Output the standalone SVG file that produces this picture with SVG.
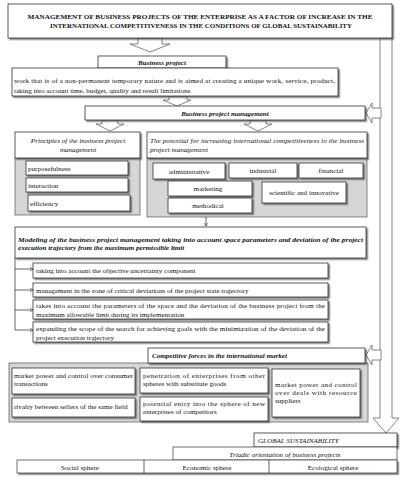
<svg xmlns="http://www.w3.org/2000/svg" width="405" height="480" viewBox="0 0 405 480" font-family="'Liberation Serif', 'Times New Roman', serif">
<defs>
<filter id="sh" x="-10%" y="-10%" width="130%" height="150%">
<feDropShadow dx="1.6" dy="1.6" stdDeviation="0.7" flood-color="#444" flood-opacity="0.65"/>
</filter>
<marker id="ah" viewBox="0 0 8 8" refX="7" refY="4" markerWidth="5" markerHeight="5" orient="auto">
<path d="M0,0 L8,4 L0,8" fill="none" stroke="#222" stroke-width="1.2"/>
</marker>
</defs>
<style>
.box{fill:#fff;stroke:#333;stroke-width:0.8;filter:url(#sh)}
.flat{fill:#fff;stroke:#333;stroke-width:0.7}
.panel{fill:#d6d6d6;stroke:#555;stroke-width:0.7}
.barrow{fill:#fff;stroke:#666;stroke-width:0.8}
.t{font-family:"Liberation Serif","Times New Roman",serif;font-size:7.1px;fill:#111}
.c{text-anchor:middle}
.i{font-style:italic}
.b{font-weight:bold}
.ttl{font-size:6.7px}
.line{fill:none;stroke:#222;stroke-width:0.7}
</style>
<rect width="405" height="480" fill="#fff"/>

<g id="connectors">
<polygon class="barrow" points="380,38 380,418 373,418 386,433 399,418 392,418 392,38"/>
<polygon class="barrow" points="381,108 372,108 372,103 366,113 372,123 372,118 381,118"/>
<polygon class="barrow" points="381,350 372,350 372,345 366,355 372,365 372,360 381,360"/>
<polygon class="barrow" points="138,38 162,38 162,44 170,44 150,52 130,44 138,44"/>
<polygon class="barrow" points="169,96 187,96 187,100 191,100 177,106 163,100 169,100"/>
<polygon class="barrow" points="102,120 118,120 118,124 124,124 110,131 96,124 102,124"/>
<polygon class="barrow" points="250,120 266,120 266,124 272,124 258,131 244,124 250,124"/>
<line class="line" x1="206" y1="213" x2="206" y2="226" marker-end="url(#ah)"/>
<polyline class="line" points="15,258 15,330"/>
<line class="line" x1="15" y1="269" x2="33" y2="269" marker-end="url(#ah)"/>
<line class="line" x1="15" y1="290" x2="33" y2="290" marker-end="url(#ah)"/>
<line class="line" x1="15" y1="310" x2="33" y2="310" marker-end="url(#ah)"/>
<line class="line" x1="15" y1="330" x2="33" y2="330" marker-end="url(#ah)"/>
</g>

<g id="title">
<rect class="box" x="8" y="4" width="384" height="34"/>
<text class="t b c ttl" x="200" y="18.5" textLength="345" lengthAdjust="spacingAndGlyphs">MANAGEMENT OF BUSINESS PROJECTS OF THE ENTERPRISE AS A FACTOR OF INCREASE IN THE</text>
<text class="t b c ttl" x="201" y="27.5" textLength="302" lengthAdjust="spacingAndGlyphs">INTERNATIONAL COMPETITIVENESS IN THE CONDITIONS OF GLOBAL SUSTAINABILITY</text>
</g>

<g id="business-project">
<rect class="box" x="98" y="56" width="128" height="12"/>
<text class="t b i c" x="162" y="64.8">Business project</text>
</g>

<g id="definition">
<rect class="box" x="12" y="68" width="326" height="28"/>
<text class="t" x="14" y="83" textLength="321" lengthAdjust="spacing">work that is of a non-permanent temporary  nature and is aimed at creating  a unique work, service, product,</text>
<text class="t" x="14" y="92.5">taking into account time, budget, quality and result limitations</text>
</g>

<g id="bpm">
<rect class="box" x="85" y="106" width="280" height="14"/>
<text class="t b i c" x="225" y="115.8">Business project management</text>
</g>

<g id="principles">
<rect class="panel" x="15" y="158" width="125" height="57"/>
<rect class="box" x="15" y="132" width="125" height="26"/>
<text class="t i c" x="78" y="143">Principles  of  the  business  project</text>
<text class="t i c" x="78" y="152">management</text>
<rect class="box" x="26" y="161" width="102" height="14"/>
<text class="t" x="28" y="170.5">purposefulness</text>
<rect class="box" x="26" y="178" width="102" height="14"/>
<text class="t" x="28" y="187.5">interaction</text>
<rect class="box" x="28" y="195" width="102" height="16"/>
<text class="t" x="30" y="205.5">efficiency</text>
</g>

<g id="potential">
<rect class="panel" x="147" y="158" width="220" height="59"/>
<rect class="box" x="147" y="132" width="220" height="26"/>
<text class="t i" x="150" y="143" textLength="214" lengthAdjust="spacing">The potential for increasing international competitiveness  in the business</text>
<text class="t i" x="150" y="152">project management</text>
<rect class="box" x="153" y="163" width="72" height="16"/>
<text class="t c" x="189" y="173.5">administrative</text>
<rect class="box" x="229" y="163" width="68" height="15"/>
<text class="t c" x="263" y="173">industrial</text>
<rect class="box" x="299" y="163" width="64" height="15"/>
<text class="t c" x="331" y="173">financial</text>
<rect class="box" x="168" y="181" width="84" height="15"/>
<text class="t c" x="208" y="190.5">marketing</text>
<rect class="box" x="168" y="198" width="84" height="15"/>
<text class="t c" x="208" y="207.5">methodical</text>
<rect class="box" x="262" y="182" width="84" height="21"/>
<text class="t c" x="304" y="195">scientific  and innovative</text>
</g>

<g id="modeling">
<rect class="box" x="15" y="227" width="351" height="31"/>
<text class="t b i" x="18" y="241.5" textLength="345" lengthAdjust="spacingAndGlyphs">Modeling of the business project management taking into account space parameters and deviation  of the project</text>
<text class="t b i" x="18" y="249.5">execution trajectory from the maximum permissible limit</text>
</g>

<g id="item-uncertainty">
<rect class="box" x="33" y="263" width="295" height="15"/>
<text class="t" x="36" y="273">taking into account the objective uncertainty  component</text>
</g>
<g id="item-critical">
<rect class="box" x="33" y="283" width="295" height="14"/>
<text class="t" x="36" y="292.5">management in the zone of critical  deviations  of the project  state trajectory</text>
</g>
<g id="item-parameters">
<rect class="box" x="33" y="300" width="295" height="19"/>
<text class="t" x="36" y="308" textLength="289" lengthAdjust="spacing">takes into account the parameters  of the space and the deviation  of the business  project  from the</text>
<text class="t" x="36" y="316.5">maximum allowable limit during its implementation</text>
</g>
<g id="item-expanding">
<rect class="box" x="33" y="322" width="295" height="20"/>
<text class="t" x="36" y="331" textLength="289" lengthAdjust="spacing">expanding the scope of the search for achieving goals with the minimization  of the deviation  of the</text>
<text class="t" x="36" y="339.5">project execution  trajectory</text>
</g>

<g id="competitive">
<rect class="panel" x="9" y="363" width="359" height="59"/>
<rect class="box" x="148" y="348" width="217" height="15"/>
<text class="t b i" x="152" y="358">Competitive  forces in the international market</text>
<rect class="box" x="12" y="368" width="123" height="26"/>
<text class="t" x="14" y="377.5" textLength="119" lengthAdjust="spacing">market power and control over consumer</text>
<text class="t" x="14" y="386">transactions</text>
<rect class="box" x="12" y="398" width="123" height="19"/>
<text class="t" x="14" y="409">rivalry between sellers of the same field</text>
<rect class="box" x="140" y="368" width="128" height="25"/>
<text class="t" x="143" y="377.5" textLength="122" lengthAdjust="spacing">penetration   of   enterprises   from   other</text>
<text class="t" x="143" y="386">spheres with substitute goods</text>
<rect class="box" x="140" y="397" width="128" height="24"/>
<text class="t" x="143" y="405.5" textLength="122" lengthAdjust="spacing">potential  entry  into  the  sphere  of  new</text>
<text class="t" x="143" y="414">enterprises of competitors</text>
<rect class="box" x="272" y="369" width="88" height="48"/>
<text class="t" x="275" y="387" textLength="82" lengthAdjust="spacing">market power and control</text>
<text class="t" x="275" y="395" textLength="82" lengthAdjust="spacing">over deals with resource</text>
<text class="t" x="275" y="403">suppliers</text>
</g>

<g id="global">
<rect class="box" x="254" y="433" width="143" height="14"/>
<text class="t i" x="258" y="443">GLOBAL  SUSTAINABILITY</text>
</g>
<g id="triadic">
<rect class="flat" x="173" y="447" width="224" height="13"/>
<text class="t i c" x="285" y="456.5">Triadic orientation of business projects</text>
</g>
<g id="spheres">
<rect class="flat" x="17" y="460" width="380" height="13" filter="url(#sh)"/>
<line class="line" x1="144" y1="460" x2="144" y2="473"/>
<line class="line" x1="269" y1="460" x2="269" y2="473"/>
<text class="t c" x="80" y="469.5">Social sphere</text>
<text class="t c" x="207" y="469.5">Economic sphere</text>
<text class="t c" x="333" y="469.5">Ecological sphere</text>
</g>
</svg>
